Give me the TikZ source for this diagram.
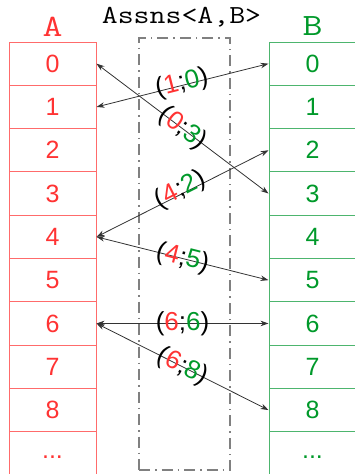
\documentclass[tikz,border=0pt]{standalone}
\usepackage{fontspec}
\usepackage{graphicx}
\setmainfont{Liberation Sans}
\newfontfamily\monofont{Latin Modern Mono}
\usetikzlibrary{arrows.meta}
\definecolor{ared}{HTML}{FF3333}
\definecolor{aredline}{HTML}{FF6B6B}
\definecolor{bgreen}{HTML}{00992A}
\definecolor{bgreenline}{HTML}{4DB56E}
\definecolor{conn}{HTML}{333333}
\definecolor{boxgray}{HTML}{808080}
\begin{document}
\begin{tikzpicture}[x=1pt,y=-1pt,
  cellbase/.style={line width=1pt, minimum width=87pt, minimum height=43.3pt, inner sep=0pt, font=\fontsize{25}{25}\selectfont},
  acell/.style={cellbase, draw=aredline, text=ared},
  bcell/.style={cellbase, draw=bgreenline, text=bgreen},
  colhead/.style={font=\monofont\fontsize{31}{31}\selectfont, inner sep=0pt},
  pairarrow/.style={draw=conn, line width=0.8pt, {Stealth[length=8pt,width=5.5pt]}-{Stealth[length=8pt,width=5.5pt]}},
  pairlabel/.style={sloped, midway, font=\fontsize{26}{26}\selectfont, inner sep=0pt, text=black},
  assnsbox/.style={draw=boxgray, line width=1.2pt, dash pattern=on 11pt off 5pt on 1.5pt off 5pt, minimum width=91pt, minimum height=432pt, inner sep=0pt}
]
\useasboundingbox (0,0) rectangle (354,474);
% columns
\foreach \i in {0,...,8} {
  \node[acell] (a\i) at (52.5,63.65+43.3*\i) {\i};
  \node[bcell] (b\i) at (312.5,63.65+43.3*\i) {\i};
}
\node[acell, minimum height=50pt] (a9) at (52.5,456.7) {...};
\node[bcell, minimum height=50pt] (b9) at (312.5,456.7) {...};
% headers
\node[colhead, text=ared] (ha) at (52.5,26.5) {\scalebox{1.25}[1]{A}};
\node[colhead, text=bgreen] (hb) at (312.5,26.5) {\scalebox{1.25}[1]{B}};
\node[font=\monofont\fontsize{26}{26}\selectfont, inner sep=0pt] (title) at (181.5,17.5) {\scalebox{1.19}[1]{Assns<A,B>}};
% association box
\node[assnsbox] (assns) at (184.5,254) {};
% connectors
\draw[pairarrow] (a1.east) -- node[pairlabel, yshift=2pt] {(\textcolor{ared}{1};\textcolor{bgreen}{0})} (b0.west);
\draw[pairarrow] (a0.east) -- node[pairlabel] {(\textcolor{ared}{0};\textcolor{bgreen}{3})} (b3.west);
\draw[pairarrow] (a4.east) -- node[pairlabel, yshift=4pt] {(\textcolor{ared}{4};\textcolor{bgreen}{2})} (b2.west);
\draw[pairarrow] (a4.east) -- node[pairlabel] {(\textcolor{ared}{4};\textcolor{bgreen}{5})} (b5.west);
\draw[pairarrow] (a6.east) -- node[pairlabel] {(\textcolor{ared}{6};\textcolor{bgreen}{6})} (b6.west);
\draw[pairarrow] (a6.east) -- node[pairlabel] {(\textcolor{ared}{6};\textcolor{bgreen}{8})} (b8.west);
\end{tikzpicture}
\end{document}
